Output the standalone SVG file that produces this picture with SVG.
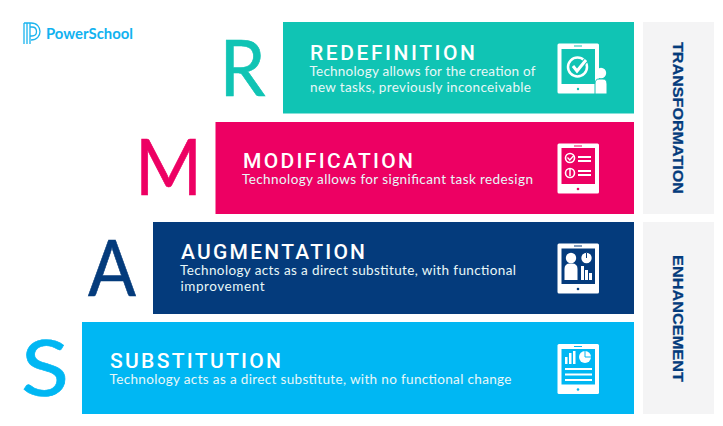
<svg xmlns="http://www.w3.org/2000/svg" width="723" height="426" viewBox="0 0 723 426">
<style>
.t{font-family:"Roboto","Open Sans",sans-serif;font-weight:500;font-size:21px;fill:#fff}
.b{font-family:"Lato","Open Sans",sans-serif;font-weight:400;font-size:13.5px;fill:#e8f8f8}
.l{font-family:"Lato","Liberation Sans",sans-serif;font-weight:400;font-size:77px;stroke-width:.6}
.s{font-family:"Liberation Sans",sans-serif;font-weight:700;font-size:15px;fill:#043b7c;stroke:#043b7c;stroke-width:.25}
.w{fill:#fff}.ln{stroke:#fff;stroke-width:2;fill:none}
</style>
<defs>
<rect id="tab" x="557.500" y="0" width="41.500" height="50" rx="1.500" fill="#fff"/>
</defs>
<rect width="723" height="426" fill="#fff"/>
<g id="logo">
<g fill="none" stroke="#1ab4ee" stroke-width="1.300">
<path d="M24 23V44M27 23V44M30 23V44"/>
<path d="M24 23H31C43 23 43 40 31 40"/>
<path d="M30 27H32C38 27 38 36 32 36H30"/>
</g>
<text x="46" y="38.500" font-family="Lato,'Open Sans',sans-serif" font-weight="700" font-size="14.500" fill="#12b2f0" textLength="87" lengthAdjust="spacingAndGlyphs">PowerSchool</text>
</g>
<g id="side-transformation">
<rect x="643" y="22" width="71" height="192" fill="#f4f4f5"/>
<text class="s" transform="translate(672.500 42) rotate(90)" textLength="152" lengthAdjust="spacingAndGlyphs">TRANSFORMATION</text>
</g>
<g id="side-enhancement">
<rect x="643" y="222" width="71" height="192" fill="#f4f4f5"/>
<text class="s" transform="translate(672.500 255) rotate(90)" textLength="127" lengthAdjust="spacingAndGlyphs">ENHANCEMENT</text>
</g>
<g id="node-r">
<text class="l" x="219.500" y="96" fill="#10c4b4" stroke="#10c4b4" textLength="46" lengthAdjust="spacingAndGlyphs">R</text>
<rect x="283" y="22" width="351" height="91.500" fill="#10c4b4"/>
<text class="t" x="310" y="60" textLength="165" lengthAdjust="spacing">REDEFINITION</text>
<text class="b" x="309.500" y="76" textLength="226" lengthAdjust="spacing">Technology allows for the creation of</text>
<text class="b" x="310" y="92" textLength="221" lengthAdjust="spacing">new tasks, previously inconceivable</text>
<use href="#tab" y="43.500"/>
<rect x="561.500" y="49" width="33.500" height="35" fill="#10c4b4"/>
<rect x="574" y="45.500" width="8" height="1" fill="#10c4b4"/>
<circle cx="578" cy="89" r="1.200" fill="#10c4b4"/>
<circle cx="577.500" cy="67" r="9.500" fill="none" stroke="#fff" stroke-width="2.500"/>
<path d="M573 66l4 5 9-11" fill="none" stroke="#10c4b4" stroke-width="5"/>
<path d="M573 66l4 5 9-11" fill="none" stroke="#fff" stroke-width="3"/>
<path d="M595 94V84Q595 79 599 79L603 79Q607 79 607 84V94Z" class="w" stroke="#10c4b4" stroke-width="1"/>
<circle cx="601" cy="73" r="5.200" class="w"/>
</g>
<g id="node-m">
<text class="l" x="135" y="195" fill="#ed0063" stroke="#ed0063" textLength="67" lengthAdjust="spacingAndGlyphs">M</text>
<rect x="215.500" y="122" width="418.500" height="92" fill="#ed0063"/>
<text class="t" x="243" y="168" textLength="170" lengthAdjust="spacing">MODIFICATION</text>
<text class="b" x="242" y="184" textLength="291" lengthAdjust="spacing">Technology allows for significant task redesign</text>
<use href="#tab" y="143.500"/>
<rect x="561.500" y="148" width="33.500" height="36" fill="#ed0063"/>
<rect x="574" y="145.500" width="8" height="1" fill="#ed0063"/>
<circle cx="578" cy="189" r="1.300" fill="#ed0063"/>
<circle cx="570" cy="158" r="4.500" fill="none" stroke="#fff" stroke-width="1.600"/>
<path d="M567.500 157.500l2.300 2.500 4-4.500" fill="none" stroke="#fff" stroke-width="1.300"/>
<circle cx="570" cy="173" r="4.500" fill="none" stroke="#fff" stroke-width="1.600"/>
<path d="M570 169V176" stroke="#fff" stroke-width="1.500"/>
<path class="ln" d="M578 157H591M578 161H591M578 171H591M578 175H591"/>
</g>
<g id="node-a">
<text class="l" x="88" y="296" fill="#043b7c" stroke="#043b7c" textLength="48" lengthAdjust="spacingAndGlyphs">A</text>
<rect x="153" y="222" width="481" height="92" fill="#043b7c"/>
<text class="t" x="181" y="259" textLength="184" lengthAdjust="spacing">AUGMENTATION</text>
<text class="b" x="180" y="275" textLength="336" lengthAdjust="spacing">Technology acts as a direct substitute, with functional</text>
<text class="b" x="180.500" y="291" textLength="84" lengthAdjust="spacing">improvement</text>
<use href="#tab" y="243.500"/>
<rect x="561.500" y="248.500" width="33.500" height="35.500" fill="#043b7c"/>
<rect x="574" y="245.500" width="8" height="1" fill="#043b7c"/>
<circle cx="578" cy="289" r="1.300" fill="#043b7c"/>
<circle cx="571" cy="258" r="5.200" class="w"/>
<path d="M564.500 280V269Q564.500 263.500 570 263.500H572Q577.500 263.500 577.500 269V280Z" class="w"/>
<circle cx="586.500" cy="258" r="5.200" class="w"/>
<path d="M586.500 258V253" stroke="#043b7c"/>
<path d="M581 266h3v14h-3zM585 270h3v10h-3zM589 273h3v7h-3z" class="w"/>
</g>
<g id="node-s">
<text class="l" x="21" y="396" fill="#00b7f3" stroke="#00b7f3" textLength="48" lengthAdjust="spacingAndGlyphs">S</text>
<rect x="82" y="322" width="552" height="92" fill="#00b7f3"/>
<text class="t" x="110" y="368" textLength="171" lengthAdjust="spacing">SUBSTITUTION</text>
<text class="b" x="109.500" y="384" textLength="402" lengthAdjust="spacing">Technology acts as a direct substitute, with no functional change</text>
<use href="#tab" y="344"/>
<rect x="561.500" y="349" width="33.500" height="35.500" fill="#00b7f3"/>
<rect x="574" y="346" width="8" height="1" fill="#00b7f3"/>
<circle cx="578" cy="389.500" r="1.300" fill="#00b7f3"/>
<path d="M565 357h2.500v7H565zM569 353h2.500v11H569zM573 351h2.500v13H573z" class="w"/>
<circle cx="585" cy="357" r="6" class="w"/>
<path d="M585 357V351M585 357H591" stroke="#00b7f3"/>
<path class="ln" d="M565 369H592M565 374.500H592M565 380H592" stroke-width="1.800"/>
</g>
</svg>
